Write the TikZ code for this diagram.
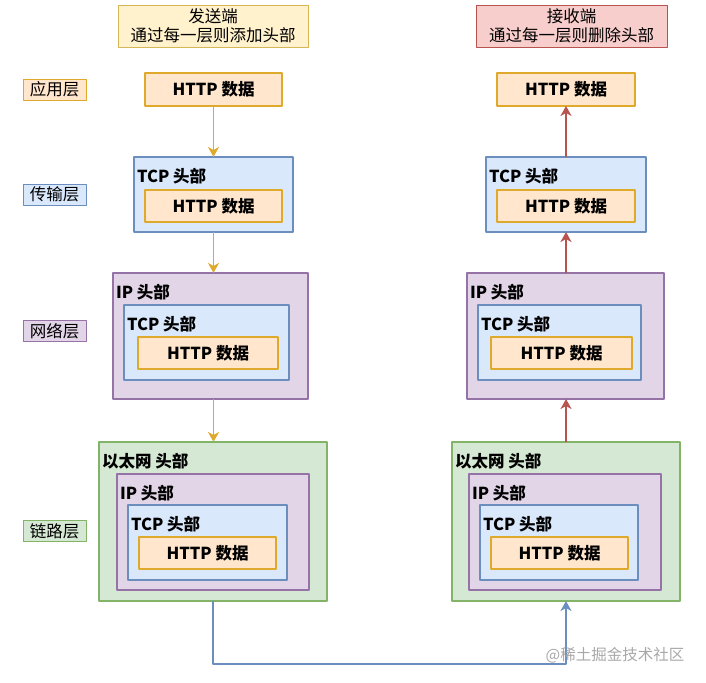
\documentclass[tikz,border=0pt]{standalone}
\usepackage{fontspec}
\setmainfont{Noto Sans CJK SC}
\usetikzlibrary{arrows.meta}
\definecolor{sendf}{HTML}{fff2cc}
\definecolor{sendb}{HTML}{d6b656}
\definecolor{recvf}{HTML}{f8cecc}
\definecolor{recvb}{HTML}{b85450}
\definecolor{appf}{HTML}{ffe6cc}
\definecolor{appb}{HTML}{dfaa2c}
\definecolor{tcpf}{HTML}{dae8fc}
\definecolor{tcpb}{HTML}{6c8ebf}
\definecolor{ipf}{HTML}{e1d5e7}
\definecolor{ipb}{HTML}{9673a6}
\definecolor{ethf}{HTML}{d5e8d4}
\definecolor{ethb}{HTML}{82b366}
\definecolor{mark}{HTML}{a8a8a8}

\begin{document}
\begin{tikzpicture}[
  x=1pt, y=-1pt,
  line join=round,
  every node/.style={inner sep=0pt, outer sep=0pt, font=\fontsize{16.5}{19}\selectfont},
  titlebox/.style={line width=0.8pt, align=center, minimum width=190pt, minimum height=42pt},
  layer/.style={line width=0.8pt, minimum width=63pt, minimum height=21pt},
  app/.style={draw=appb, fill=appf, line width=1.8pt, font=\fontsize{16.5}{19}\selectfont\bfseries},
  tcp/.style={draw=tcpb, fill=tcpf, line width=1.6pt},
  ip/.style={draw=ipb, fill=ipf, line width=1.6pt},
  eth/.style={draw=ethb, fill=ethf, line width=1.6pt},
  hdr/.style={anchor=west, font=\fontsize{16.5}{19}\selectfont\bfseries},
  down/.style={draw=appb, line width=1.6pt, -{Stealth[length=10pt, width=11pt, inset=3pt]}},
  up/.style={draw=recvb, line width=1.6pt, -{Stealth[length=10pt, width=11pt, inset=3pt]}},
  wire/.style={draw=tcpb, line width=1.6pt, -{Stealth[length=10pt, width=11pt, inset=3pt]}},
]
\useasboundingbox (0,0) rectangle (706,682);

\node[titlebox, draw=sendb, fill=sendf] (sTitle) at (213,26) {发送端\\通过每一层则添加头部};
\node[titlebox, draw=recvb, fill=recvf, minimum width=191pt] (rTitle) at (571.5,26) {接收端\\通过每一层则删除头部};

\node[layer, draw=appb, fill=appf] (lApp) at (54.5,89.5) {应用层};
\node[layer, draw=tcpb, fill=tcpf] (lTcp) at (54.5,194.5) {传输层};
\node[layer, draw=ipb, fill=ipf] (lIp) at (54.5,331) {网络层};
\node[layer, draw=ethb, fill=ethf] (lEth) at (54.5,531) {链路层};

\node[app, minimum width=137pt, minimum height=33pt] (sApp) at (213.5,89.5) {HTTP 数据};

\node[tcp, minimum width=159pt, minimum height=75pt] (sT) at (213.5,194.5) {};
\node[hdr] (sTh) at ([xshift=3pt, yshift=-19pt]sT.north west) {TCP 头部};
\node[app, minimum width=137pt, minimum height=32pt] (sTd) at (213.5,206) {HTTP 数据};

\node[ip, minimum width=195pt, minimum height=126pt] (sN) at (210.5,336) {};
\node[hdr] (sNh) at ([xshift=3pt, yshift=-19pt]sN.north west) {IP 头部};
\node[tcp, minimum width=165pt, minimum height=75pt] (sNt) at (206.5,342.5) {};
\node[hdr] (sNth) at ([xshift=3pt, yshift=-19pt]sNt.north west) {TCP 头部};
\node[app, minimum width=140pt, minimum height=32pt] (sNd) at (208,353) {HTTP 数据};

\node[eth, minimum width=228pt, minimum height=159pt] (sL) at (213,521.5) {};
\node[hdr] (sLh) at ([xshift=3pt, yshift=-19pt]sL.north west) {以太网 头部};
\node[ip, minimum width=192pt, minimum height=116pt] (sLn) at (213,532) {};
\node[hdr] (sLnh) at ([xshift=3pt, yshift=-19pt]sLn.north west) {IP 头部};
\node[tcp, minimum width=159pt, minimum height=75pt] (sLt) at (207.5,542.5) {};
\node[hdr] (sLth) at ([xshift=3pt, yshift=-19pt]sLt.north west) {TCP 头部};
\node[app, minimum width=137pt, minimum height=32pt] (sLd) at (207.5,553) {HTTP 数据};

\node[app, minimum width=138pt, minimum height=33pt] (rApp) at (566,89.5) {HTTP 数据};

\node[tcp, minimum width=160pt, minimum height=75pt] (rT) at (566,194.5) {};
\node[hdr] (rTh) at ([xshift=3pt, yshift=-19pt]rT.north west) {TCP 头部};
\node[app, minimum width=138pt, minimum height=32pt] (rTd) at (566,206) {HTTP 数据};

\node[ip, minimum width=197pt, minimum height=126pt] (rN) at (565.5,336) {};
\node[hdr] (rNh) at ([xshift=3pt, yshift=-19pt]rN.north west) {IP 头部};
\node[tcp, minimum width=163pt, minimum height=75pt] (rNt) at (559.5,342.5) {};
\node[hdr] (rNth) at ([xshift=3pt, yshift=-19pt]rNt.north west) {TCP 头部};
\node[app, minimum width=141pt, minimum height=32pt] (rNd) at (561.5,353) {HTTP 数据};

\node[eth, minimum width=228pt, minimum height=159pt] (rL) at (566,521.5) {};
\node[hdr] (rLh) at ([xshift=3pt, yshift=-19pt]rL.north west) {以太网 头部};
\node[ip, minimum width=192pt, minimum height=116pt] (rLn) at (565,532) {};
\node[hdr] (rLnh) at ([xshift=3pt, yshift=-19pt]rLn.north west) {IP 头部};
\node[tcp, minimum width=158pt, minimum height=75pt] (rLt) at (559,542.5) {};
\node[hdr] (rLth) at ([xshift=3pt, yshift=-19pt]rLt.north west) {TCP 头部};
\node[app, minimum width=137pt, minimum height=32pt] (rLd) at (559.5,553) {HTTP 数据};

\draw[down] (sApp.south) -- (sT.north);
\draw[down] (sT.south) -- (sT.south |- sN.north);
\draw[down] (sN.south -| sT.south) -- (sL.north -| sT.south);

\draw[up] (rT.north) -- (rApp.south);
\draw[up] (rN.north -| rT.south) -- (rT.south);
\draw[up] (rL.north -| rT.south) -- (rN.south -| rT.south);

\coordinate (low) at (390,664);
\draw[wire] (sL.south) |- (low) -| (rL.south);

\node[text=mark, font=\fontsize{15.5}{18}\selectfont] (wm) at (615,655) {@稀土掘金技术社区};
\end{tikzpicture}
\end{document}
